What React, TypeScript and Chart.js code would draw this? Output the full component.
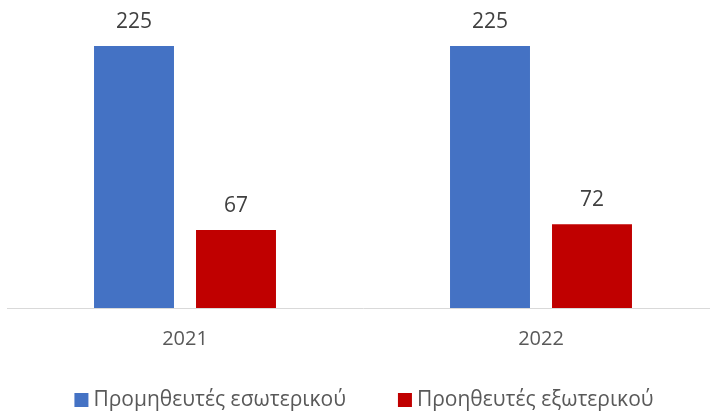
import React, { useEffect, useRef } from "react";
import { Chart, registerables } from "chart.js";

Chart.register(...registerables);

const categories = ["2021", "2022"];
const seriesLabels = ["Προμηθευτές εσωτερικού", "Προηθευτές εξωτερικού"];
const domesticValues = [225, 225];
const foreignValues = [67, 72];
const seriesColors = ["#4472C4", "#C00000"];

const FONT = "'Open Sans', sans-serif";

const valueLabels = {
  id: "valueLabels",
  afterDatasetsDraw(chart: any) {
    const ctx = chart.ctx;
    ctx.save();
    ctx.font = `21px ${FONT}`;
    ctx.fillStyle = "#404040";
    ctx.textAlign = "center";
    ctx.textBaseline = "middle";
    chart.data.datasets.forEach((ds: any, i: number) => {
      const meta = chart.getDatasetMeta(i);
      meta.data.forEach((bar: any, j: number) => {
        ctx.fillText(String(ds.data[j]), bar.x, bar.y - 24);
      });
    });
    ctx.restore();
  },
};

const bottomLegend = {
  id: "bottomLegend",
  afterDraw(chart: any) {
    const ctx = chart.ctx;
    ctx.save();
    ctx.font = `21px ${FONT}`;
    ctx.textBaseline = "middle";
    ctx.textAlign = "left";
    const box = 14;
    const gapText = 5;
    const gapItem = 52;
    const widths = chart.data.datasets.map((ds: any) => ctx.measureText(ds.label).width);
    const total = widths.reduce((a: number, w: number) => a + box + gapText + w, 0) + gapItem * (widths.length - 1);
    let x = 364 - total / 2;
    const y = 400;
    chart.data.datasets.forEach((ds: any, i: number) => {
      ctx.fillStyle = ds.backgroundColor;
      ctx.fillRect(x, y - box / 2, box, box);
      ctx.fillStyle = "#595959";
      ctx.fillText(ds.label, x + box + gapText, y);
      x += box + gapText + widths[i] + gapItem;
    });
    ctx.restore();
  },
};

export default function App() {
  const ref = useRef<HTMLCanvasElement>(null);
  useEffect(() => {
    if (!ref.current) return;
    const chart = new Chart(ref.current, {
      type: "bar",
      data: {
        labels: categories,
        datasets: [
          { label: seriesLabels[0], data: domesticValues, backgroundColor: seriesColors[0] },
          { label: seriesLabels[1], data: foreignValues, backgroundColor: seriesColors[1] },
        ],
      },
      options: {
        responsive: false,
        animation: false,
        devicePixelRatio: 1,
        layout: { padding: { left: 7, right: 1, top: 17, bottom: 0 } },
        datasets: { bar: { categoryPercentage: 0.573, barPercentage: 0.784 } },
        plugins: {
          tooltip: { enabled: false },
          legend: { display: false },
        },
        scales: {
          x: {
            grid: { display: false },
            border: { color: "#d9d9d9", width: 1 },
            ticks: { color: "#595959", font: { family: FONT, size: 20 }, padding: 11 },
            afterFit: (s: any) => {
              s.height = 104;
            },
          },
          y: { display: false, min: 0, max: 250 },
        },
      },
      plugins: [valueLabels, bottomLegend],
    });
    return () => chart.destroy();
  }, []);
  return (
    <div style={{ position: "fixed", left: 0, top: 0, width: 710, height: 412, overflow: "hidden", background: "#fff" }}>
      <canvas ref={ref} width={720} height={412} />
    </div>
  );
}
